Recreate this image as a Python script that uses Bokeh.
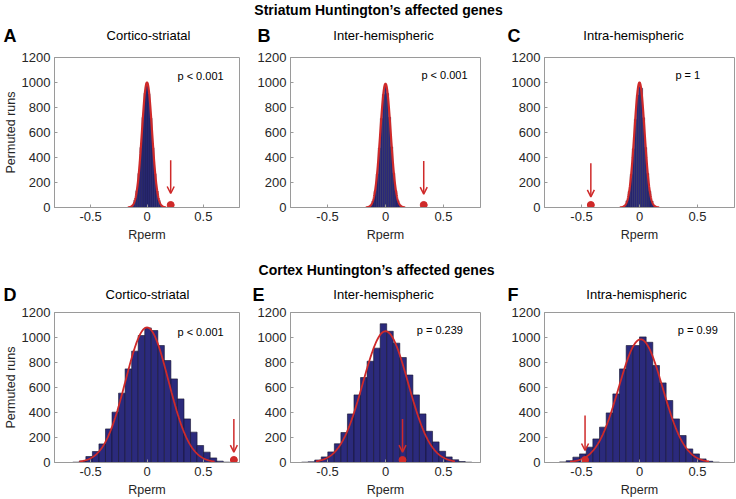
import numpy as np
from bokeh.plotting import figure
from bokeh.layouts import row, column
from bokeh.models import Label, Arrow, OpenHead, NumeralTickFormatter, FixedTicker, Range1d
from bokeh.embed import file_html
from bokeh.resources import INLINE

FONT = "Liberation Sans"
BAR = "#2b2a7c"
EDGE = "#14132e"
RED = "#cf2a2a"
BOX = "#9a9a9a"
TXT = "#262626"

# ---------------- data ----------------
header_texts = ["Striatum Huntington\u2019s affected genes", "Cortex Huntington\u2019s affected genes"]
panel_letters = ["A", "B", "C", "D", "E", "F"]
panel_titles = ["Cortico-striatal", "Inter-hemispheric", "Intra-hemispheric",
                "Cortico-striatal", "Inter-hemispheric", "Intra-hemispheric"]
p_texts = ["p < 0.001", "p < 0.001", "p = 1", "p < 0.001", "p = 0.239", "p = 0.99"]
p_text_x = [0.27, 0.31, 0.31, 0.27, 0.27, 0.33]
p_text_y = [1050, 1060, 1060, 1045, 1060, 1060]

observed_r = [0.21, 0.33, -0.42, 0.77, 0.147, -0.47]
observed_marker_y = [20, 20, 20, 20, 20, 20]
arrow_top = [378, 373, 354, 349, 349, 376]
arrow_bottom = [112, 107, 85, 83, 83, 96]

x_ticks = [-0.5, 0, 0.5]
y_ticks = [0, 200, 400, 600, 800, 1000, 1200]

# histogram bins (first edge, bin width) and counts
bin_first_edge = [-0.153, -0.153, -0.153, -0.658, -0.724, -0.69]
bin_width = [0.018, 0.018, 0.018, 0.058, 0.0565, 0.0575]

counts_A = [5, 18, 56, 135, 272, 480, 720, 915, 995, 910, 715, 478, 270, 132, 54, 19, 6]
counts_B = [4, 16, 52, 130, 268, 476, 712, 905, 985, 912, 722, 485, 275, 135, 55, 18, 5]
counts_C = [5, 17, 54, 128, 265, 470, 705, 900, 968, 955, 718, 480, 272, 130, 52, 17, 5]
counts_D = [3, 12, 48, 88, 149, 269, 403, 555, 749, 891, 1016, 1077, 1056, 936, 816,
            669, 509, 349, 243, 136, 83, 37, 11, 3]
counts_E = [3, 6, 20, 45, 85, 150, 240, 389, 541, 680, 810, 915, 1110, 1050, 955, 840,
            700, 541, 389, 250, 165, 90, 45, 22, 8, 3]
counts_F = [5, 15, 43, 69, 123, 189, 283, 397, 549, 749, 936, 936, 1005, 962, 776, 637,
            496, 349, 216, 109, 69, 29, 10, 3]
all_counts = [counts_A, counts_B, counts_C, counts_D, counts_E, counts_F]

# fitted normal curves
fit_mean = [0.0, 0.0, 0.0, 0.0, 0.0, 0.01]
fit_sigma = [0.045, 0.045, 0.044, 0.19, 0.195, 0.19]
fit_peak = [1000, 990, 1000, 1080, 1050, 985]
fit_lo = [-0.17, -0.17, -0.17, -0.6, -0.6, -0.6]
fit_hi = [0.17, 0.17, 0.17, 0.6, 0.6, 0.6]

# ---------------- layout (pixels) ----------------
col_w = [250, 242, 243]
col_bl = [49, 40, 52]
col_br = [11, 12, 1]
row_h = [200, 196]
row_bt = [10, 9]
row_bb = [40, 37]
header_h = [47, 56]
# positions inside header strips
header_title_xy = [(378, 9.5), (376, 22.5)]
letter_x = [3, 257, 507, 3, 252, 507]
title_cx = [148, 383, 633, 147, 383, 636]
title_y = [35, 35, 35, 47, 47, 47]


def make_panel(i):
    r, c = divmod(i, 3)
    p = figure(width=col_w[c], height=row_h[r],
               x_range=Range1d(-0.82, 0.82), y_range=Range1d(0, 1200),
               toolbar_location=None, output_backend="svg",
               min_border_left=col_bl[c], min_border_right=col_br[c],
               min_border_top=row_bt[r], min_border_bottom=row_bb[r])
    counts = all_counts[i]
    edges = bin_first_edge[i] + bin_width[i] * np.arange(len(counts) + 1)
    lw = 0.35 if r == 0 else 0.6
    p.quad(left=edges[:-1], right=edges[1:], top=counts, bottom=0,
           fill_color=BAR, line_color=EDGE, line_width=lw)
    xs = np.linspace(fit_lo[i], fit_hi[i], 300)
    ys = fit_peak[i] * np.exp(-0.5 * ((xs - fit_mean[i]) / fit_sigma[i]) ** 2)
    p.line(xs, ys, line_color=RED, line_width=2.2 if r == 0 else 1.8)

    p.add_layout(Arrow(end=OpenHead(size=7, line_color=RED, line_width=1.5),
                       x_start=observed_r[i], y_start=arrow_top[i],
                       x_end=observed_r[i], y_end=arrow_bottom[i],
                       line_color=RED, line_width=1.5))
    p.scatter([observed_r[i]], [observed_marker_y[i]], size=7, color=RED)

    p.add_layout(Label(x=p_text_x[i], y=p_text_y[i], text=p_texts[i],
                       text_font=FONT, text_font_size="11px", text_color="black",
                       text_align="left", text_baseline="middle"))

    p.grid.visible = False
    p.outline_line_color = BOX
    p.xaxis.ticker = FixedTicker(ticks=x_ticks)
    p.yaxis.ticker = FixedTicker(ticks=y_ticks)
    p.xaxis.formatter = NumeralTickFormatter(format="0.[0]")
    p.yaxis.formatter = NumeralTickFormatter(format="0")
    for ax in p.axis:
        ax.major_label_text_font = FONT
        ax.major_label_text_font_size = "13px"
        ax.major_label_text_color = TXT
        ax.axis_line_color = BOX
        ax.major_tick_line_color = BOX
        ax.major_tick_in = 3
        ax.major_tick_out = 0
        ax.minor_tick_line_color = None
        ax.major_label_standoff = 4
        ax.axis_label_text_font = FONT
        ax.axis_label_text_font_size = "12.5px"
        ax.axis_label_text_font_style = "normal"
        ax.axis_label_text_color = TXT
    p.xaxis.axis_label = "Rperm"
    p.xaxis.axis_label_standoff = 4
    if c == 0:
        p.yaxis.axis_label = "Permuted runs"
        p.yaxis.axis_label_standoff = 1
    return p


def make_header(k):
    h = header_h[k]
    p = figure(width=sum(col_w), height=h, x_range=Range1d(0, sum(col_w)), y_range=Range1d(h, 0),
               toolbar_location=None, output_backend="svg",
               x_axis_type=None, y_axis_type=None, min_border=0)
    p.grid.visible = False
    p.outline_line_color = None
    hx, hy = header_title_xy[k]
    p.add_layout(Label(x=hx, y=hy, text=header_texts[k], text_font=FONT,
                       text_font_size="14px", text_font_style="bold", text_color="black",
                       text_align="center", text_baseline="middle"))
    for j in range(3 * k, 3 * k + 3):
        p.add_layout(Label(x=title_cx[j], y=title_y[j], text=panel_titles[j],
                           text_font=FONT, text_font_size="13px", text_color="black",
                           text_align="center", text_baseline="middle"))
        p.add_layout(Label(x=letter_x[j], y=title_y[j], text=panel_letters[j],
                           text_font=FONT, text_font_size="18px", text_font_style="bold",
                           text_color="black", text_align="left", text_baseline="middle"))
    return p


panels = [make_panel(i) for i in range(6)]
layout = column(make_header(0), row(*panels[:3]), make_header(1), row(*panels[3:]))

open("out.html", "w").write(file_html(layout, INLINE))
